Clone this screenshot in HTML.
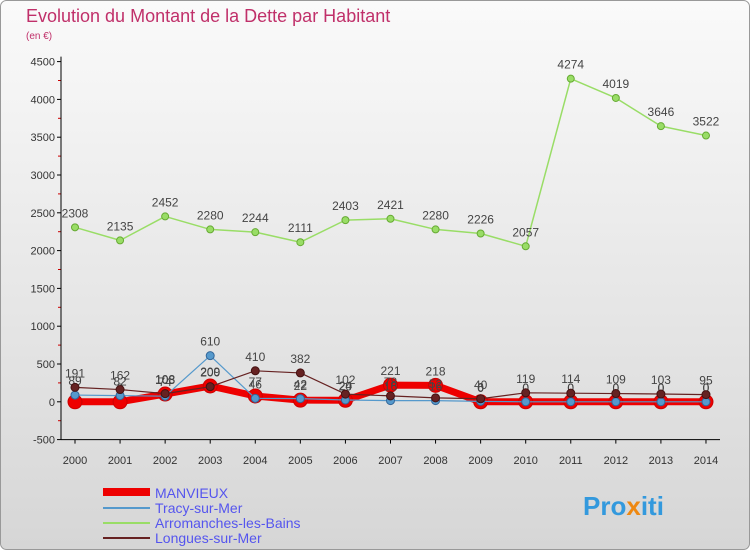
<!DOCTYPE html>
<html><head><meta charset="utf-8"><style>
body{margin:0;width:750px;height:550px;overflow:hidden;font-family:"Liberation Sans",sans-serif}
</style></head><body>
<svg id="c" width="750" height="550" xmlns="http://www.w3.org/2000/svg">
<defs><linearGradient id="bg" x1="0" y1="0" x2="0" y2="1"><stop offset="0" stop-color="#fafafa"/><stop offset="1" stop-color="#d6d6d6"/></linearGradient></defs>
<rect x="0.5" y="0.5" width="749" height="549" rx="6" fill="url(#bg)" stroke="#999"/>
<text x="26" y="22" font-size="18" fill="#c0306a">Evolution du Montant de la Dette par Habitant</text>
<text x="26" y="39" font-size="10" fill="#c0306a">(en €)</text>
<g id="axes"></g><g id="series"></g>
<g>
<line x1="103" y1="492" x2="150" y2="492" stroke="#ee0000" stroke-width="8"/>
<text x="155" y="498" font-size="14" fill="#5555ee">MANVIEUX</text>
<line x1="103" y1="508" x2="150" y2="508" stroke="#5599cc" stroke-width="2"/>
<text x="155" y="513" font-size="14" fill="#5555ee">Tracy-sur-Mer</text>
<line x1="103" y1="523" x2="150" y2="523" stroke="#99dd66" stroke-width="2"/>
<text x="155" y="528" font-size="14" fill="#5555ee">Arromanches-les-Bains</text>
<line x1="103" y1="538" x2="150" y2="538" stroke="#662222" stroke-width="2"/>
<text x="155" y="543" font-size="14" fill="#5555ee">Longues-sur-Mer</text>
</g>
<text x="583" y="515" font-size="26" font-weight="bold" fill="#3399dd">Pro<tspan fill="#ee8811">x</tspan>iti</text>
</svg>
<script>
const years=[2000,2001,2002,2003,2004,2005,2006,2007,2008,2009,2010,2011,2012,2013,2014];
const yTicks=[-500,0,500,1000,1500,2000,2500,3000,3500,4000,4500];
const manvieux=[0,0,103,209,77,22,20,221,218,0,0,0,0,0,0];
const tracy=[89,82,74,610,46,42,24,16,16,6,0,0,0,0,0];
const arromanches=[2308,2135,2452,2280,2244,2111,2403,2421,2280,2226,2057,4274,4019,3646,3522];
const longues=[191,162,108,200,410,382,102,78,52,40,119,114,109,103,95];
const NS="http://www.w3.org/2000/svg";
const X=i=>75+i*45.07, Y=v=>401.8-v*378/5000;
function mk(p,t,a){const e=document.createElementNS(NS,t);for(const k in a)e.setAttribute(k,a[k]);p.appendChild(e);return e;}
const ax=document.getElementById('axes'), sr=document.getElementById('series');
for(const t of yTicks){
 const l=mk(ax,'text',{x:55,y:Y(t)+4,'font-size':11,fill:'#333','text-anchor':'end'});l.textContent=t;
 
 
 mk(ax,'line',{x1:57,x2:61,y1:Y(t),y2:Y(t),stroke:'#000'});
 if(t<4500) mk(ax,'line',{x1:58,x2:61,y1:Y(t+250),y2:Y(t+250),stroke:'#c00'});
}
mk(ax,'line',{x1:61,x2:61,y1:Y(4500)-5,y2:Y(-500),stroke:'#000'});
mk(ax,'line',{x1:61,x2:720,y1:Y(-500),y2:Y(-500),stroke:'#000'});
years.forEach((yr,i)=>{
 mk(ax,'line',{x1:X(i),x2:X(i),y1:Y(-500),y2:Y(-500)+4,stroke:'#000'});
 const l=mk(ax,'text',{x:X(i),y:464,'font-size':11,fill:'#333','text-anchor':'middle'});l.textContent=yr;
 
 
});
function series(data,name,color,w,r,stroke,sw){
 const g=mk(sr,'g',{});
 
 
 const p=mk(g,'polyline',{points:data.map((v,i)=>X(i)+','+Y(v)).join(' '),fill:'none',stroke:color,'stroke-width':w,'stroke-linejoin':'round'});
 
 
 data.forEach((v,i)=>{
  const c=mk(g,'circle',{cx:X(i),cy:Y(v),r:r,fill:color,stroke:stroke,'stroke-width':sw});
  
  
  const t=mk(g,'text',{x:X(i),y:Y(v)-10,'font-size':12,fill:'#444','text-anchor':'middle'});t.textContent=v;
  
  
 });
}
series(arromanches,'arromanches','#99dd66',1.5,3.5,'#66aa33',1);
series(manvieux,'manvieux','#ee0000',7,7,'#cc0000',1);
series(tracy,'tracy','#5599cc',1.2,4,'#336699',1);
series(longues,'longues','#662222',1.2,4,'#441111',1);
</script>
</body></html>
